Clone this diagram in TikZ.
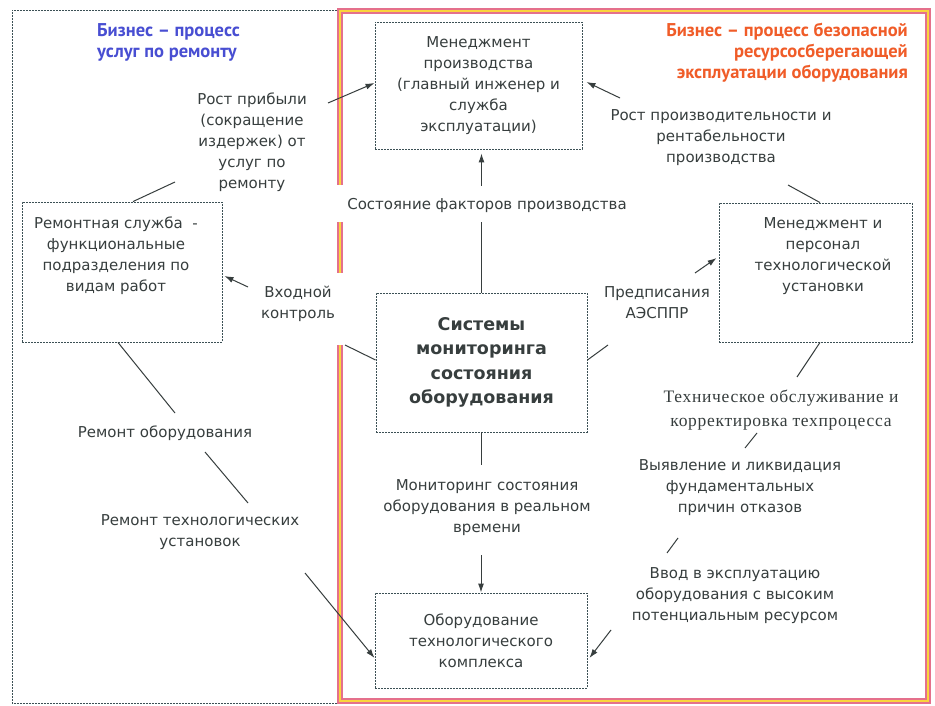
\documentclass[tikz,border=0pt]{standalone}
\usepackage{fontspec}
\setmainfont{DejaVu Sans}
\newfontfamily\ptsans{PT Sans}
\newfontfamily\serifrm[LetterSpace=4]{Liberation Serif}
\usetikzlibrary{arrows.meta,calc}
\definecolor{ink}{RGB}{55,62,62}
\definecolor{boxline}{RGB}{60,80,85}
\definecolor{titleblue}{RGB}{72,78,210}
\definecolor{titleorange}{RGB}{240,92,40}
\definecolor{framepink}{RGB}{228,112,140}
\definecolor{frameyellow}{RGB}{250,212,60}
\tikzset{
  box/.style={draw=boxline, line width=0.9pt, dash pattern=on 2pt off 1pt, inner sep=0pt, align=center},
  lbl/.style={align=center, inner sep=1pt},
  con/.style={draw=ink, line width=1pt},
  arr/.style={con, -{Latex[length=9pt,width=6pt]}},
  dashframe/.style={draw=boxline, line width=0.9pt, dash pattern=on 2pt off 1pt},
  titlefont/.style={font=\ptsans\bfseries\fontsize{18.5}{21}\selectfont, inner sep=0pt},
}
\begin{document}
\begin{tikzpicture}[x=1pt,y=-1pt, font=\fontsize{15}{21}\selectfont, text=ink]
\useasboundingbox (0,0) rectangle (935,706);
\fill[white] (0,0) rectangle (935,706);

% frames
\draw[dashframe] (340,10) -- (12,10) -- (12,703) -- (340,703);
\foreach \c/\w in {framepink/6.5pt, frameyellow/2.5pt}{
  \draw[\c, line width=\w] (340,185) -- (340,11) -- (928,11) -- (928,701) -- (340,701) -- (340,345);
  \draw[\c, line width=\w] (340,222) -- (340,273);
}

% titles
\node[titlefont, text=titleblue, align=left, anchor=west] (t1) at (97,42.5) {Бизнес – процесс\\услуг по ремонту};
\node[titlefont, text=titleorange, align=right, anchor=east] (t2) at (908,53) {Бизнес – процесс безопасной\\ресурсосберегающей\\эксплуатации оборудования};

% boxes
\node[box, minimum width=207pt, minimum height=127pt] (mgmt) at (478.5,85.5) {Менеджмент\\производства\\(главный инженер и\\служба\\эксплуатации)};
\node[box, minimum width=200pt, minimum height=140pt] (rem) at (122,272) {};
\node[lbl] (remt) at (116,256) {Ремонтная служба~~-\\функциональные\\подразделения по\\видам работ};
\node[box, minimum width=193pt, minimum height=139pt] (mp) at (815.5,272.5) {};
\node[lbl] (mpt) at (823,256) {Менеджмент и\\персонал\\технологической\\установки};
\node[box, minimum width=211pt, minimum height=139pt, font=\fontsize{17.5}{24.5}\selectfont\bfseries] (sys) at (481.5,362.5) {Системы\\мониторинга\\состояния\\оборудования};
\node[box, minimum width=212pt, minimum height=95pt] (obo) at (481,640.5) {Оборудование\\технологического\\комплекса};

% labels
\node[lbl] (rp) at (252,142.5) {Рост прибыли\\(сокращение\\издержек) от\\услуг по\\ремонту};
\node[lbl] (rpr) at (721,138) {Рост производительности и\\рентабельности\\производства};
\node[lbl] (sf) at (487,205) {Состояние факторов производства};
\node[lbl] (vk) at (298,304) {Входной\\контроль};
\node[lbl] (pa) at (657,303) {Предписания\\АЭСППР};
\node[lbl, font=\serifrm\fontsize{17.5}{24}\selectfont] (to) at (781,410) {Техническое обслуживание и\\корректировка техпроцесса};
\node[lbl] (vl) at (740,488) {Выявление и ликвидация\\фундаментальных\\причин отказов};
\node[lbl] (vv) at (735,596) {Ввод в эксплуатацию\\оборудования с высоким\\потенциальным ресурсом};
\node[lbl] (ms) at (487,508) {Мониторинг состояния\\оборудования в реальном\\времени};
\node[lbl] (ro) at (165,433) {Ремонт оборудования};
\node[lbl] (rt) at (200,532) {Ремонт технологических\\установок};

% connector ends
\coordinate (rpA) at (328,103);
\coordinate (rpB) at (175,182);
\coordinate (rprA) at (620,98);
\coordinate (rprB) at (788,185);
\coordinate (vkA) at (345,345);
\coordinate (vkB) at (248,287);
\coordinate (paA) at (608,345);
\coordinate (paB) at (695,273);
\coordinate (toA) at (797,377);
\coordinate (toB) at (757,433);
\coordinate (vlA) at (745,448);
\coordinate (vlB) at (678,538);
\coordinate (vvA) at (667,553);
\coordinate (vvB) at (611,630);
\coordinate (msA) at (482,465);
\coordinate (msB) at (482,555);
\coordinate (roA) at (175,413);
\coordinate (roB) at (205,452);
\coordinate (rtA) at (248,503);
\coordinate (rtB) at (305,573);

% connectors
\draw[arr] (rpA) -- (mgmt.west |- 0,83);
\draw[con] (rpB) -- (rem.north -| 133,0);
\draw[arr] (rprA) -- ([xshift=4pt]mgmt.east |- 0,82);
\draw[con] (rprB) -- (mp.north -| 820,0);
\draw[con, shorten >=9pt] (sys.north) -- (sys.north |- sf.south);
\draw[arr, shorten <=11pt] (sys.north |- sf.north) -- ([yshift=-4pt]sys.north |- mgmt.south);
\draw[con] (sys.west |- 0,360) -- (vkA);
\draw[arr] (vkB) -- ([xshift=2pt]rem.east |- 0,276);
\draw[con] (sys.east |- 0,360) -- (paA);
\draw[arr] (paB) -- ([xshift=-2pt]mp.west |- 0,258);
\draw[con] (mp.south -| 820,0) -- (toA);
\draw[con] (toB) -- (vlA);
\draw[con] (vlB) -- (vvA);
\draw[arr] (vvB) -- ([xshift=2pt]obo.east |- 0,658);
\draw[con] (sys.south) -- (sys.south |- msA);
\draw[arr] (obo.north |- msB) -- (obo.north);
\draw[con] (rem.south -| 118,0) -- (roA);
\draw[con] (roB) -- (rtA);
\draw[arr] (rtB) -- (obo.west |- 0,658);
\end{tikzpicture}
\end{document}
